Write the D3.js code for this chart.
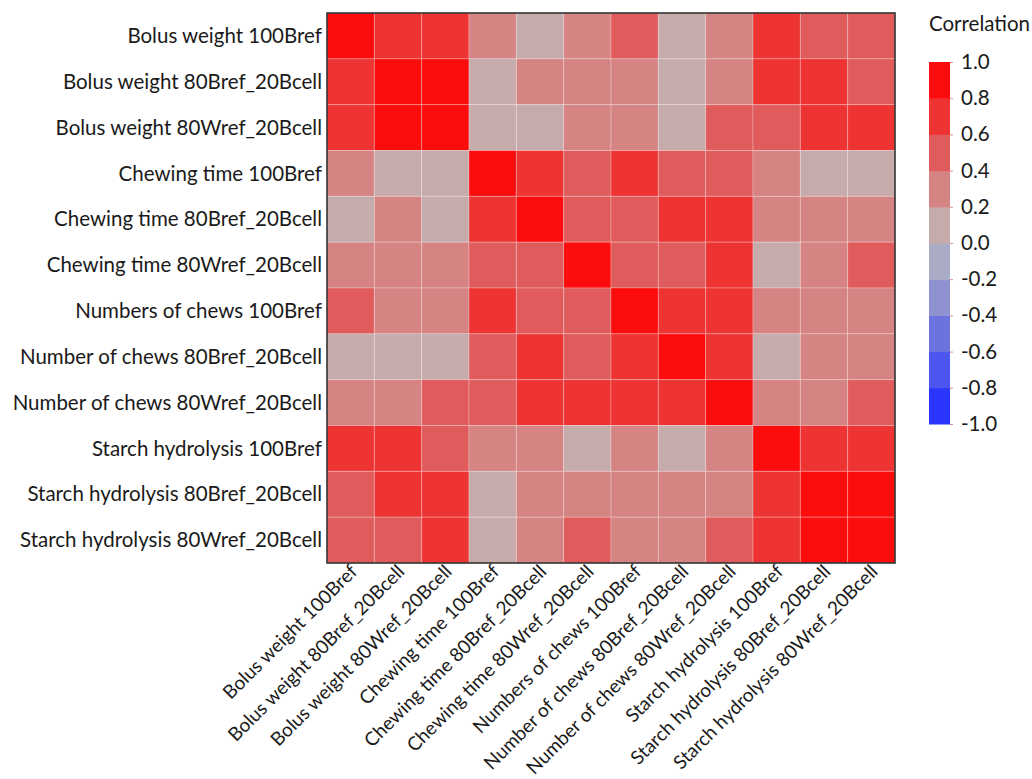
<!DOCTYPE html>
<html><head><meta charset="utf-8">
<script src="https://cdn.jsdelivr.net/npm/d3@7"></script>
<style>body{margin:0;background:#fff}svg{display:block}text{font-family:Lato,"Open Sans",sans-serif;fill:#1a1a1a}</style>
</head><body><svg id="c" width="1032" height="779"></svg>
<script>
const variables = ["Bolus weight 100Bref","Bolus weight 80Bref_20Bcell","Bolus weight 80Wref_20Bcell","Chewing time 100Bref","Chewing time 80Bref_20Bcell","Chewing time 80Wref_20Bcell","Numbers of chews 100Bref","Number of chews 80Bref_20Bcell","Number of chews 80Wref_20Bcell","Starch hydrolysis 100Bref","Starch hydrolysis 80Bref_20Bcell","Starch hydrolysis 80Wref_20Bcell"];
const correlations = [
 [1.00,0.70,0.70,0.30,0.10,0.30,0.50,0.10,0.30,0.70,0.50,0.50],
 [0.70,1.00,0.90,0.10,0.30,0.30,0.30,0.10,0.30,0.70,0.70,0.50],
 [0.70,0.90,1.00,0.10,0.10,0.30,0.30,0.10,0.50,0.50,0.70,0.70],
 [0.30,0.10,0.10,1.00,0.70,0.50,0.70,0.50,0.50,0.30,0.10,0.10],
 [0.10,0.30,0.10,0.70,1.00,0.50,0.50,0.70,0.70,0.30,0.30,0.30],
 [0.30,0.30,0.30,0.50,0.50,1.00,0.50,0.50,0.70,0.10,0.30,0.50],
 [0.50,0.30,0.30,0.70,0.50,0.50,1.00,0.70,0.70,0.30,0.30,0.30],
 [0.10,0.10,0.10,0.50,0.70,0.50,0.70,1.00,0.70,0.10,0.30,0.30],
 [0.30,0.30,0.50,0.50,0.70,0.70,0.70,0.70,1.00,0.30,0.30,0.50],
 [0.70,0.70,0.50,0.30,0.30,0.10,0.30,0.10,0.30,1.00,0.70,0.70],
 [0.50,0.70,0.70,0.10,0.30,0.30,0.30,0.30,0.30,0.70,1.00,0.90],
 [0.50,0.50,0.70,0.10,0.30,0.50,0.30,0.30,0.50,0.70,0.90,1.00]
];
const legendTicks = ["1.0","0.8","0.6","0.4","0.2","0.0","-0.2","-0.4","-0.6","-0.8","-1.0"];
const binEdges = [-0.8,-0.6,-0.4,-0.2,0,0.2,0.4,0.6,0.8];
const binColors = ["#2a36fb","#4c56ee","#6c73de","#8e92d0","#aaacc6","#c6abab","#d58383","#e05c5c","#ee3333","#fc0c0c"];

const svg = d3.select("#c");
const L = 327, T = 13, W = 568, H = 550;
const FS = 20.5, FSX = 19;
const x = d3.scaleBand().domain(variables).range([L, L+W]);
const y = d3.scaleBand().domain(variables).range([T, T+H]);
const color = d3.scaleThreshold().domain(binEdges).range(binColors);

const cells = [];
correlations.forEach((row,i)=>row.forEach((v,j)=>cells.push({r:variables[i],c:variables[j],v})));
svg.append("g").selectAll("rect").data(cells).join("rect")
  .attr("x",d=>x(d.c)).attr("y",d=>y(d.r))
  .attr("width",x.bandwidth()).attr("height",y.bandwidth())
  .attr("fill",d=>color(d.v))
  .attr("stroke","rgba(255,255,255,0.25)").attr("stroke-width",1);
svg.append("rect").attr("x",L).attr("y",T).attr("width",W).attr("height",H)
  .attr("fill","none").attr("stroke","#333").attr("stroke-width",1.6);

// y labels
svg.append("g").selectAll("text").data(variables).join("text")
  .attr("x",L-5).attr("y",d=>y(d)+y.bandwidth()/2).attr("dy","0.35em")
  .attr("text-anchor","end").attr("font-size",FS).text(d=>d);
// x labels
svg.append("g").selectAll("text").data(variables).join("text")
  .attr("transform",d=>`translate(${x(d)+x.bandwidth()/2+3},${T+H+5}) rotate(-45)`)
  .attr("text-anchor","end").attr("dy","0.35em").attr("font-size",FSX).text(d=>d);

// legend
const lx = 929, lw = 21, ly0 = 62, ly1 = 424;
const ly = d3.scaleLinear().domain([1,-1]).range([ly0,ly1]);
const bins = binColors.map((c,i)=>({c, lo: i===0?-1:binEdges[i-1], hi: i===binColors.length-1?1:binEdges[i]}));
svg.append("g").selectAll("rect").data(bins).join("rect")
  .attr("x",lx).attr("width",lw).attr("y",d=>ly(d.hi)).attr("height",d=>ly(d.lo)-ly(d.hi)+0.5)
  .attr("fill",d=>d.c);
const ax = d3.axisRight(ly).tickValues(legendTicks.map(Number)).tickSize(3).tickFormat(d=>d3.format(".1f")(d).replace("−","-"));
const ag = svg.append("g").attr("transform",`translate(${lx+lw},0)`).call(ax);
ag.select(".domain").remove();
ag.selectAll(".tick line").attr("stroke","#e88");
ag.selectAll(".tick text").attr("x",11).attr("font-size",FS).style("font-family","Lato,'Open Sans',sans-serif").attr("fill","#1a1a1a");
svg.append("text").attr("x",1030).attr("y",24).attr("dy","0.35em").attr("text-anchor","end")
  .attr("font-size",FS).text("Correlation");
</script></body></html>
